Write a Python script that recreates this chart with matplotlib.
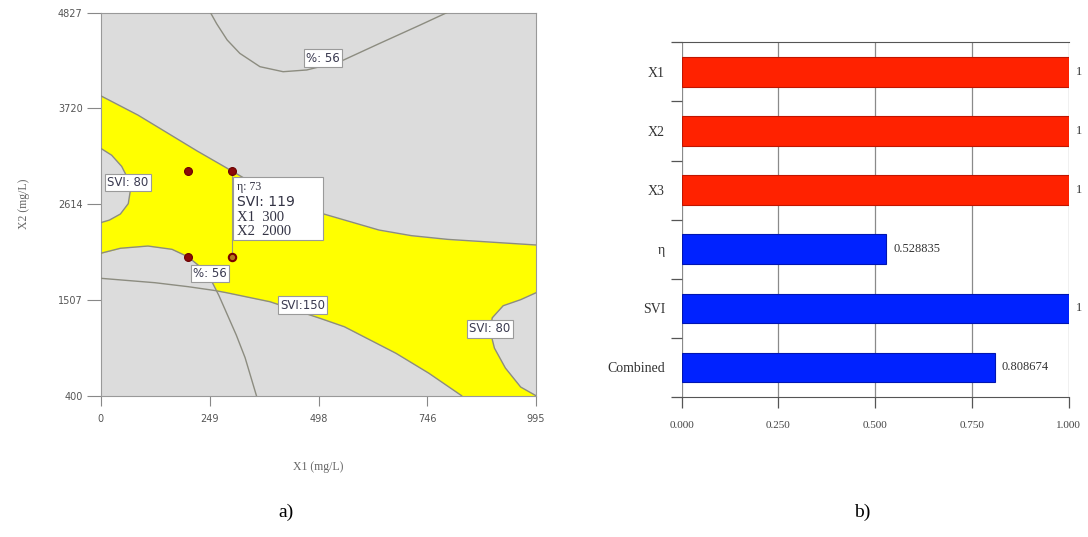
import numpy as np
import matplotlib
matplotlib.use("Agg")
import matplotlib.pyplot as plt
from matplotlib.patches import Rectangle

# ---------------- data ----------------
x1_ticks = [0, 249, 498, 746, 995]
x2_ticks = [400, 1507, 2614, 3720, 4827]

# SVI = 150 upper contour (top edge of yellow region)
svi150_up_x = [0, 85, 148, 220, 300, 400, 510, 636, 710, 793, 995]
svi150_up_y = [3867, 3644, 3451, 3230, 2997, 2700, 2500, 2315, 2250, 2207, 2142]
# SVI = 150 lower contour
svi150_lo_x = [0, 124, 200, 262, 288, 387, 501, 557, 675, 750, 825]
svi150_lo_y = [1757, 1706, 1660, 1615, 1590, 1486, 1295, 1197, 890, 660, 400]
# eta = 56 lower contour
eta56_lo_x = [0, 45, 108, 163, 199, 225, 250, 270, 290, 310, 330, 356]
eta56_lo_y = [2046, 2104, 2130, 2092, 2007, 1900, 1760, 1560, 1330, 1100, 840, 400]
# eta = 56 upper contour
eta56_up_x = [251, 265, 289, 318, 364, 417, 471, 547, 638, 730, 791]
eta56_up_y = [4827, 4700, 4512, 4357, 4203, 4145, 4165, 4261, 4473, 4684, 4827]
# SVI = 80 contours
svi80_left_x = [0, 25, 48, 63, 68, 63, 45, 20, 0]
svi80_left_y = [3260, 3180, 3050, 2900, 2777, 2620, 2500, 2430, 2400]
svi80_right_x = [995, 960, 920, 895, 890, 900, 925, 960, 995]
svi80_right_y = [1590, 1510, 1440, 1300, 1150, 950, 720, 500, 400]

# design points
pts_x = [200, 300, 200]
pts_y = [3000, 3000, 2000]
flag_x, flag_y = 300, 2000
flag_eta, flag_svi = 73, 119

# contour labels: (text, x, y)
contour_labels = [("%: 56", 508, 4303), ("SVI: 80", 62, 2864), ("%: 56", 250, 1810),
                  ("SVI:150", 462, 1448), ("SVI: 80", 890, 1171)]

# desirability bars
bar_cats = ["X1", "X2", "X3", "η", "SVI", "Combined"]
bar_vals = [1, 1, 1, 0.528835, 1, 0.808674]
bar_kind = ["factor", "factor", "factor", "response", "response", "response"]
bar_ticks = [0.0, 0.25, 0.5, 0.75, 1.0]

# ---------------- figure ----------------
W, H = 1088, 537
fig = plt.figure(figsize=(W / 100, H / 100), dpi=100)

GRAY_BG = "#dcdcdc"
LINE = "#8c8c80"
TICKC = "#555555"

ax = fig.add_axes([100.7 / W, 1 - 395.7 / H, 435.3 / W, 383 / H])
ax.set_facecolor(GRAY_BG)
ax.set_xlim(x1_ticks[0], x1_ticks[-1])
ax.set_ylim(x2_ticks[0], x2_ticks[-1])
ymin = x2_ticks[0]

# yellow region below the upper SVI=150 contour
ax.fill_between(svi150_up_x, svi150_up_y, ymin, color="#ffff00", lw=0, zorder=1)
# gray below eta=56 lower and SVI=150 lower
ax.fill_between(eta56_lo_x, eta56_lo_y, ymin, color=GRAY_BG, lw=0, zorder=2)
ax.fill_between(svi150_lo_x, svi150_lo_y, ymin, color=GRAY_BG, lw=0, zorder=2)
# SVI=80 bulges
ax.fill(svi80_left_x, svi80_left_y, color=GRAY_BG, lw=0, zorder=2)
ax.fill(svi80_right_x, svi80_right_y, color=GRAY_BG, lw=0, zorder=2)

for xs, ys in [(svi150_up_x, svi150_up_y), (svi150_lo_x, svi150_lo_y),
               (eta56_lo_x, eta56_lo_y), (eta56_up_x, eta56_up_y),
               (svi80_left_x, svi80_left_y), (svi80_right_x, svi80_right_y)]:
    ax.plot(xs, ys, color=LINE, lw=1.0, zorder=3, solid_joinstyle="round")

# flag leader line
ax.plot([flag_x, flag_x], [pts_y[1], flag_y], color="#9a9a80", lw=0.8, zorder=3)

ax.scatter(pts_x, pts_y, s=32, color="#8b0a0a", edgecolor="#6a0000", lw=0.8, zorder=6)
ax.scatter([flag_x], [flag_y], s=28, color="#b07a1a", edgecolor="#7a0000", lw=1.5, zorder=6)

for t, lx, ly in contour_labels:
    ax.text(lx, ly, t, ha="center", va="center", fontsize=8.5, color="#3a3a50",
            family="DejaVu Sans", zorder=7,
            bbox=dict(boxstyle="square,pad=0.18", fc="white", ec="#9a9a9a", lw=0.8))

# flag box
ax.add_patch(Rectangle((303, 2200), 206, 724, fc="white", ec="#9a9a9a", lw=0.8, zorder=7))
ax.text(311, 2816, f"η: {flag_eta}", fontsize=8.5, family="Liberation Serif",
        color="#333344", va="center", zorder=8)
ax.text(311, 2642, f"SVI: {flag_svi}", fontsize=10, family="DejaVu Sans",
        color="#333344", va="center", zorder=8)
ax.text(311, 2457, f"X1  {flag_x}", fontsize=10.5, family="Liberation Serif",
        color="#333344", va="center", zorder=8)
ax.text(311, 2296, f"X2  {flag_y}", fontsize=10.5, family="Liberation Serif",
        color="#333344", va="center", zorder=8)

ax.set_xticks(x1_ticks)
ax.set_yticks(x2_ticks)
ax.set_xticklabels([str(v) for v in x1_ticks])
ax.set_yticklabels([str(v) for v in x2_ticks])
ax.tick_params(axis="x", direction="out", length=7, width=0.8, color="#888888",
               labelsize=7, labelcolor=TICKC, pad=6)
ax.tick_params(axis="y", direction="out", length=10, width=0.8, color="#888888",
               labelsize=7, labelcolor=TICKC, pad=3)
for s in ax.spines.values():
    s.set_color("#999999")
    s.set_linewidth(0.8)
ax.set_xlabel("X1 (mg/L)", fontsize=8.5, family="Liberation Serif", color="#666666", labelpad=27)
ax.set_ylabel("X2 (mg/L)", fontsize=8.5, family="Liberation Serif", color="#666666", labelpad=20)

# ---------------- bar panel ----------------
bx = fig.add_axes([681.7 / W, 1 - 397 / H, 387 / W, 354.7 / H])
n = len(bar_cats)
ypos = np.arange(n)
cols = ["#ff2200" if k == "factor" else "#0022ff" for k in bar_kind]
edges = ["#c01500" if k == "factor" else "#0015b0" for k in bar_kind]
bx.barh(ypos, bar_vals, height=0.5, color=cols, edgecolor=edges, lw=0.8, zorder=3)
bx.set_ylim(n - 0.5, -0.5)
bx.set_xlim(0, 1.0)
bx.set_xticks(bar_ticks)
bx.set_xticklabels([f"{v:.3f}" for v in bar_ticks])
bx.set_yticks(ypos)
bx.set_yticklabels(bar_cats)
bx.set_yticks(np.arange(-0.5, n, 1.0), minor=True)
bx.tick_params(axis="y", which="major", length=0, pad=12, labelsize=10)
bx.tick_params(axis="y", which="minor", length=8, width=0.9, color="#555555", direction="out")
bx.tick_params(axis="x", length=8, width=0.9, color="#555555", direction="out",
               labelsize=8, pad=9, labelcolor="#444444")
for lab in bx.get_yticklabels() + bx.get_xticklabels():
    lab.set_family("Liberation Serif")
for lab in bx.get_yticklabels():
    lab.set_color("#333333")
bx.grid(axis="x", color="#8a8a8a", lw=0.9, zorder=0)
bx.set_axisbelow(True)
bx.spines["left"].set_visible(False)
bx.spines["right"].set_visible(False)
bx.spines["top"].set_color("#555555")
bx.spines["bottom"].set_color("#555555")
for y, v in zip(ypos, bar_vals):
    txt = "1" if v == 1 else f"{v:.6f}"
    bx.annotate(txt, (v, y), xytext=(5, 0), textcoords="offset points", va="center",
                ha="left", fontsize=9, family="Liberation Serif", color="#333333")

fig.text(286 / W, 1 - 512 / H, "a)", ha="center", va="center", fontsize=14, family="Liberation Serif")
fig.text(862 / W, 1 - 512 / H, "b)", ha="center", va="center", fontsize=14, family="Liberation Serif")

fig.savefig("out.png", dpi=100)
